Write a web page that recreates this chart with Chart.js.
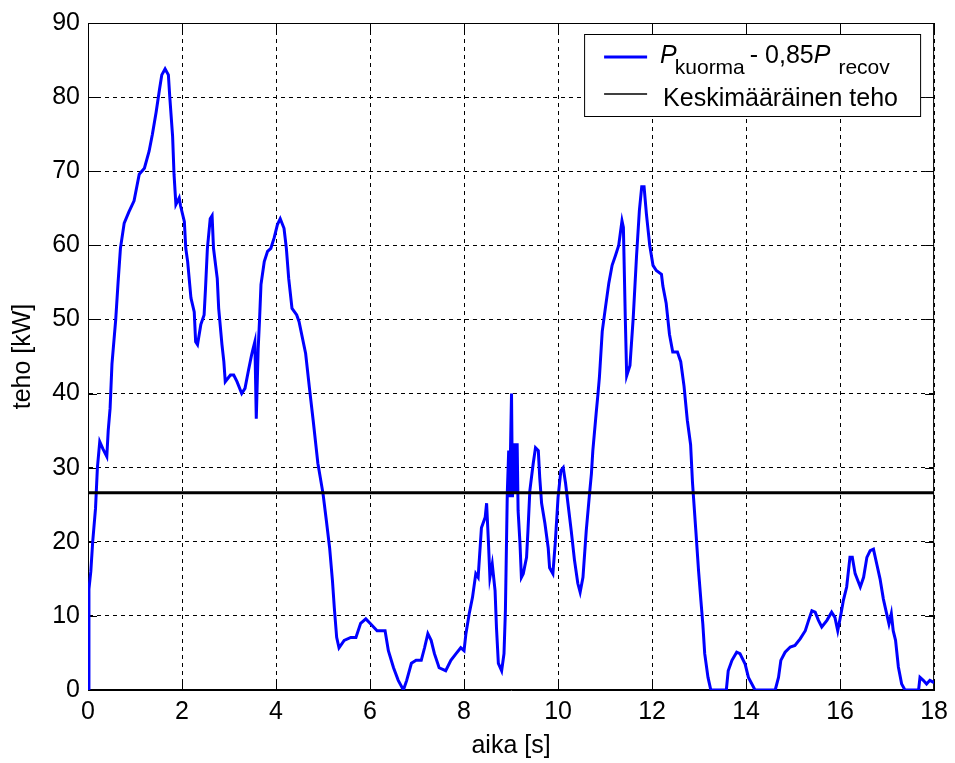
<!DOCTYPE html>
<html>
<head>
<meta charset="utf-8">
<script src="https://cdn.jsdelivr.net/npm/chart.js@4.4.1/dist/chart.umd.min.js"></script>
<style>
html, body { margin: 0; padding: 0; background: #fff; }
canvas { display: block; }
</style>
</head>
<body>
<canvas id="teho_chart" width="955" height="763"></canvas>
<script>
// aika [s] and teho [kW]
const aika = [
    0, 0.02, 0.06, 0.1, 0.16, 0.2, 0.25, 0.32, 0.4, 0.43, 0.47, 0.51, 0.59, 0.64, 0.69, 0.77, 0.87, 0.98,
    1.09, 1.2, 1.3, 1.37, 1.45, 1.52, 1.57, 1.64, 1.71, 1.74, 1.8, 1.83, 1.87, 1.94, 1.97,
    2.05, 2.08, 2.12, 2.19, 2.26, 2.29, 2.33, 2.4, 2.47, 2.5, 2.54, 2.6, 2.64, 2.67, 2.75, 2.78, 2.85, 2.89, 2.92,
    3.03, 3.1, 3.17, 3.27, 3.34, 3.41, 3.48, 3.51, 3.55, 3.58, 3.62, 3.65, 3.68, 3.75, 3.82, 3.89, 3.96,
    4.03, 4.09, 4.17, 4.22, 4.27, 4.34, 4.44, 4.49, 4.63, 4.71, 4.79, 4.89, 5.0, 5.07, 5.14, 5.2, 5.24, 5.29, 5.34,
    5.45, 5.59, 5.7, 5.8, 5.91, 6.0, 6.15, 6.32, 6.39, 6.5, 6.6, 6.71, 6.78, 6.88, 6.98, 7.09, 7.16, 7.23, 7.3,
    7.37, 7.47, 7.61, 7.72, 7.83, 7.93, 8.0, 8.04, 8.11, 8.18, 8.25, 8.3, 8.37, 8.45, 8.48, 8.52, 8.55, 8.6,
    8.66, 8.69, 8.73, 8.8, 8.85, 8.88, 8.92, 8.95, 8.97, 9.01, 9.03, 9.07, 9.1, 9.13, 9.15, 9.19, 9.22, 9.26,
    9.33, 9.36, 9.4, 9.47, 9.52, 9.58, 9.61, 9.65, 9.72, 9.79, 9.82, 9.89, 9.94, 10.0, 10.06, 10.11, 10.16,
    10.21, 10.28, 10.35, 10.42, 10.47, 10.53, 10.6, 10.67, 10.71, 10.74, 10.81, 10.85, 10.88, 10.94, 11.01,
    11.08, 11.15, 11.22, 11.29, 11.36, 11.39, 11.43, 11.46, 11.53, 11.6, 11.67, 11.73, 11.78, 11.83, 11.88,
    11.95, 12.02, 12.09, 12.2, 12.23, 12.3, 12.37, 12.44, 12.54, 12.61, 12.68, 12.75, 12.82, 12.86, 12.93,
    12.99, 13.04, 13.08, 13.12, 13.19, 13.25, 13.58, 13.62, 13.7, 13.8, 13.87, 13.98, 14.05, 14.19, 14.62,
    14.69, 14.74, 14.83, 14.94, 15.04, 15.15, 15.26, 15.33, 15.4, 15.47, 15.54, 15.61, 15.72, 15.82, 15.89,
    15.95, 16.02, 16.07, 16.14, 16.21, 16.26, 16.32, 16.43, 16.5, 16.57, 16.64, 16.71, 16.78, 16.85, 16.92,
    16.99, 17.04, 17.09, 17.13, 17.18, 17.24, 17.31, 17.38, 17.67, 17.7, 17.77, 17.84, 17.91, 18.0
];
const teho = [
    0, 13.6, 16, 20, 24.5, 30, 33.5, 32.5, 31.5, 35, 38, 44, 50, 55, 59.6, 63, 64.5, 66,
    69.6, 70.4, 72.7, 75, 78, 81, 83, 83.8, 83, 80, 74.7, 69.6, 65.5, 66.4, 65.3,
    63.2, 59.6, 57.8, 52.9, 51, 47, 46.6, 49.3, 50.6, 54.2, 59.6, 63.6, 64, 59.6, 55.5, 51.5, 46.6, 44.3, 41.6,
    42.5, 42.5, 41.6, 40, 40.7, 43, 45.2, 46, 47, 36.6, 46, 50, 54.7, 57.8, 59.2, 59.6, 61,
    62.8, 63.6, 62.3, 59.6, 55.5, 51.5, 50.6, 49.7, 45.4, 40.8, 36.4, 30.6, 26.5, 22.9, 19.2, 14.8, 11.1, 7.1, 5.7,
    6.7, 7.1, 7.1, 9.0, 9.6, 9.0, 8.0, 8.0, 5.3, 3.0, 1.3, 0, 1.3, 3.6, 4.0, 4.0, 5.7, 7.6, 6.7,
    4.9, 3.0, 2.6, 4.0, 4.9, 5.7, 5.3, 7.6, 10.3, 12.5, 15.7, 15.2, 21.9, 23.3, 25.2, 19.8, 15.2, 17,
    13.4, 8.4, 3.6, 2.6, 4.9, 10.7, 26.5, 32.3, 26, 40, 26, 33.3, 26.5, 33.3, 24.2, 19.8, 15.2, 15.7,
    17.9, 21.5, 26.9, 30.5, 32.7, 32.3, 28.7, 25.2, 22.5, 19.2, 16.5, 15.7, 19.8, 26, 29.6, 30, 27.9,
    25.2, 21.5, 17.5, 14.4, 13.2, 15.2, 21.5, 26.5, 29.2, 32.3, 37.3, 40, 42.2, 48.4, 51.7,
    54.9, 57.3, 58.6, 60, 63.3, 62.4, 50.3, 42.4, 43.8, 50.3, 58.6, 64.7, 67.9, 67.9, 64.2,
    60, 57.3, 56.6, 56.1, 54.5, 52.2, 48, 45.6, 45.6, 44.3, 41, 36.4, 33.1, 28, 21.6,
    16, 12, 8.9, 4.9, 1.7, 0, 0, 2.6, 4, 5.1, 4.9, 3.5, 1.7, 0, 0,
    1.7, 4, 5.1, 5.8, 6, 6.9, 8, 9.4, 10.7, 10.5, 9.4, 8.5, 9.4, 10.5, 9.8,
    8, 10.3, 12.1, 13.9, 17.9, 17.9, 15.7, 13.9, 15.2, 17.9, 18.8, 19, 17, 15, 12.3,
    10.3, 8.9, 10.3, 8, 6.7, 3.1, 0.8, 0, 0, 1.7, 1.3, 0.8, 1.3, 1
];
const keskiteho = 26.6;

const x_ticks = [0, 2, 4, 6, 8, 10, 12, 14, 16, 18];
const y_ticks = [0, 10, 20, 30, 40, 50, 60, 70, 80, 90];

const x_title = 'aika [s]';
const y_title = 'teho [kW]';
const legend_keskiteho = 'Keskimääräinen teho';

const font_family = '"Liberation Sans", Arial, Helvetica, sans-serif';
Chart.defaults.font.family = font_family;
Chart.defaults.font.size = 25;
Chart.defaults.color = '#000';

// box round the plot and inward tick marks, like the matlab figure
const frame_plugin = {
    id: 'frame',
    beforeDatasetsDraw(chart) {
        let ctx = chart.ctx;
        let a = chart.chartArea;
        ctx.save();
        ctx.strokeStyle = '#000';
        ctx.lineWidth = 1;
        ctx.strokeRect(a.left + 0.5, a.top + 0.5, a.right - a.left - 1, a.bottom - a.top - 1);
        ctx.beginPath();
        x_ticks.forEach(v => {
            let x = Math.round(chart.scales.x.getPixelForValue(v)) + 0.5;
            ctx.moveTo(x, a.bottom); ctx.lineTo(x, a.bottom - 9);
            ctx.moveTo(x, a.top); ctx.lineTo(x, a.top + 9);
        });
        y_ticks.forEach(v => {
            let y = Math.round(chart.scales.y.getPixelForValue(v)) + 0.5;
            ctx.moveTo(a.left, y); ctx.lineTo(a.left + 9, y);
            ctx.moveTo(a.right, y); ctx.lineTo(a.right - 9, y);
        });
        ctx.stroke();
        ctx.restore();
    }
};

// legend with subscripts drawn by hand
const legend_plugin = {
    id: 'matlab_legend',
    afterDraw(chart) {
        let ctx = chart.ctx;
        let a = chart.chartArea;
        let x0 = a.right - 350;
        let y0 = a.top + 11;
        ctx.save();
        ctx.fillStyle = '#fff';
        ctx.fillRect(x0, y0, 336, 82);
        ctx.strokeStyle = '#000';
        ctx.lineWidth = 1;
        ctx.strokeRect(x0 + 0.5, y0 + 0.5, 336, 82);

        ctx.lineWidth = 3;
        ctx.strokeStyle = '#0000ff';
        ctx.beginPath();
        ctx.moveTo(x0 + 20, y0 + 23); ctx.lineTo(x0 + 63, y0 + 23);
        ctx.stroke();
        ctx.lineWidth = 1.5;
        ctx.strokeStyle = '#000';
        ctx.beginPath();
        ctx.moveTo(x0 + 20, y0 + 60); ctx.lineTo(x0 + 63, y0 + 60);
        ctx.stroke();

        ctx.fillStyle = '#000';
        ctx.textBaseline = 'alphabetic';
        ctx.textAlign = 'left';
        let base = y0 + 29;
        let x = x0 + 76;
        let parts = [
            ['P', 'italic 25px ' + font_family, 0, -2],
            ['kuorma', '21px ' + font_family, 11, 5],
            ['- 0,85', '25px ' + font_family, 0, 0],
            ['P', 'italic 25px ' + font_family, 0, 8],
            ['recov', '21px ' + font_family, 11, 0]
        ];
        parts.forEach(p => {
            ctx.font = p[1];
            ctx.fillText(p[0], x, base + p[2]);
            x += ctx.measureText(p[0]).width + p[3];
        });
        ctx.font = '25px ' + font_family;
        ctx.fillText(legend_keskiteho, x0 + 79, y0 + 72);
        ctx.restore();
    }
};

let teho_canvas = document.getElementById('teho_chart');

const teho_config = {
    type: 'line',
    data: {
        datasets: [{
            label: 'P_kuorma - 0,85P_recov',
            data: aika.map((t, i) => ({x: t, y: teho[i]})),
            borderColor: '#0000ff',
            backgroundColor: '#0000ff',
            borderWidth: 3,
            pointRadius: 0,
            tension: 0,
            order: 1
        }, {
            label: legend_keskiteho,
            data: [{x: 0, y: keskiteho}, {x: 18, y: keskiteho}],
            borderColor: '#000',
            backgroundColor: '#000',
            borderWidth: 3,
            pointRadius: 0,
            order: 0
        }]
    },
    options: {
        responsive: false,
        animation: false,
        layout: {
            padding: {left: 0, right: 18, top: 22, bottom: 0}
        },
        plugins: {
            legend: {display: false},
            tooltip: {enabled: false}
        },
        scales: {
            x: {
                type: 'linear',
                min: 0,
                max: 18,
                afterBuildTicks: (scale) => { scale.ticks = x_ticks.map(v => ({value: v})); },
                afterFit: (scale) => { scale.height = 73; },
                ticks: {padding: 7, maxRotation: 0},
                grid: {color: '#000', lineWidth: 1, drawTicks: false},
                border: {display: true, color: '#000', width: 1, dash: [4, 4]},
                title: {display: true, text: x_title, padding: {top: 0, bottom: 2}}
            },
            y: {
                type: 'linear',
                min: 0,
                max: 90,
                afterBuildTicks: (scale) => { scale.ticks = y_ticks.map(v => ({value: v})); },
                afterFit: (scale) => { scale.width = 88; },
                ticks: {padding: 8},
                grid: {color: '#000', lineWidth: 1, drawTicks: false},
                border: {display: true, color: '#000', width: 1, dash: [4, 4]},
                title: {display: true, text: y_title, padding: {top: 8, bottom: 0}}
            }
        }
    },
    plugins: [frame_plugin, legend_plugin]
};

let teho_graph = new Chart(teho_canvas, teho_config);
</script>
</body>
</html>
